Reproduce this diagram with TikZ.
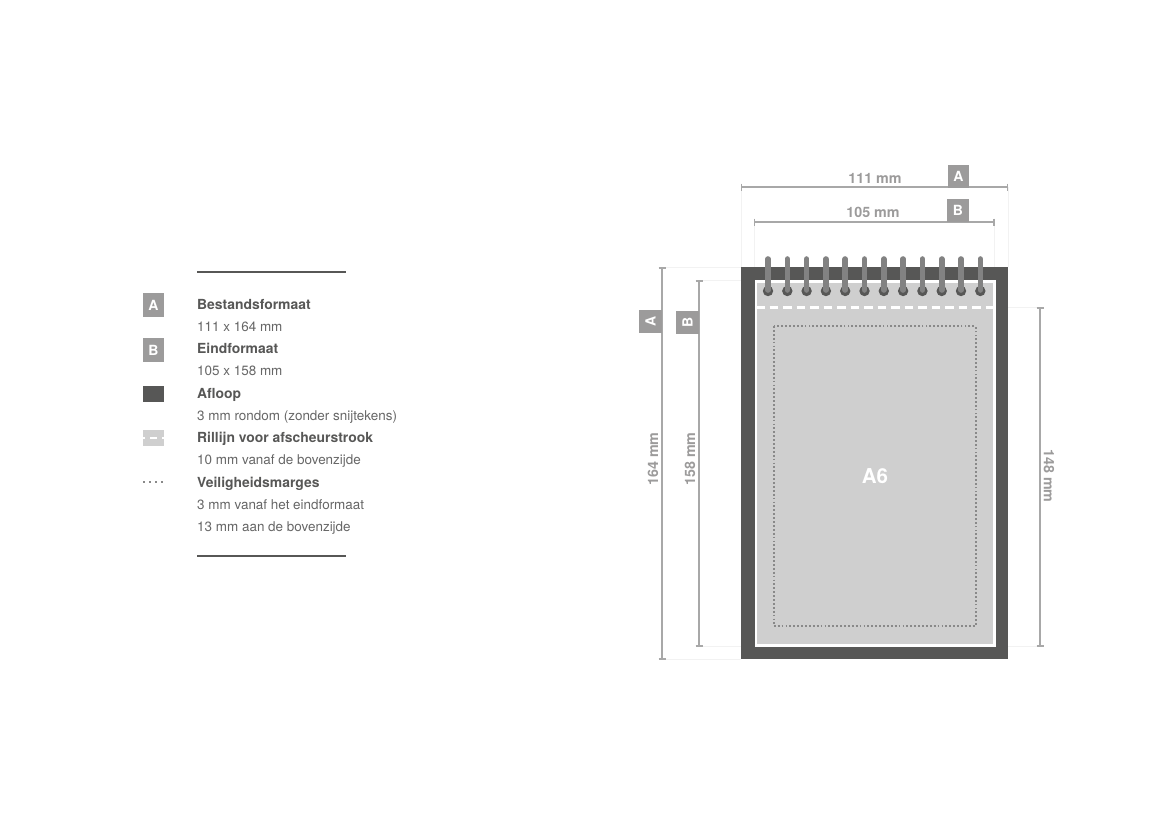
\documentclass[tikz,border=0pt]{standalone}
\usepackage{fontspec}
\setmainfont{TeX Gyre Heros}
\definecolor{dark}{HTML}{575756}
\definecolor{midg}{HTML}{9C9B9B}
\definecolor{dimg}{HTML}{A8A8A8}
\definecolor{lightg}{HTML}{CFCFCF}
\definecolor{faint}{HTML}{F2F2F2}
\definecolor{coil}{HTML}{828282}
\definecolor{txt}{HTML}{666666}
\tikzset{
  x=1pt,y=-1pt,
  boxlab/.style={fill=midg,text=white,font=\fontsize{14}{14}\selectfont\bfseries,inner sep=0pt,minimum width=21.5pt,minimum height=23pt,anchor=center},
  dimline/.style={draw=dimg,line width=2.5pt},
  extline/.style={draw=faint,line width=.8pt},
  dimtxt/.style={text=midg,font=\fontsize{14.3}{14.3}\selectfont\bfseries,inner sep=0pt},
  legh/.style={text=dark,font=\fontsize{13.9}{13.9}\selectfont\bfseries,inner sep=0pt,anchor=base west},
  legt/.style={text=txt,font=\fontsize{13.45}{13.45}\selectfont,inner sep=0pt,anchor=base west},
  rulel/.style={draw=dark,line width=1.3pt},
  dotl/.style={draw=dark!70,line width=2pt,dash pattern=on 1.8pt off 2.1pt},
}
\begin{document}
\begin{tikzpicture}
\useasboundingbox (0,0) rectangle (1169,827);
% legend
\coordinate (r1a) at (197,272); \coordinate (r1b) at (346,272);
\coordinate (r2a) at (197,556); \coordinate (r2b) at (346,556);
\draw[rulel] (r1a) -- (r1b);
\draw[rulel] (r2a) -- (r2b);
\node[boxlab,minimum height=23.5pt] (legA) at (153.5,305) {A};
\node[boxlab,minimum height=23.5pt] (legB) at (153.5,350) {B};
\fill[dark] (143,386) rectangle (164,402);
\fill[lightg] (143,430) rectangle (164,446);
\draw[white,line width=2.4pt] (143,438) -- (145,438) (150,438) -- (157,438) (162,438) -- (164,438);
\draw[draw=dark!70,line width=1.5pt,dash pattern=on 1.5pt off 4.6pt] (143,482) -- (165,482);
\node[legh] (t1) at (197,309) {Bestandsformaat};
\node[legt] (t2) at (197,331.5) {111 x 164 mm};
\node[legh] (t3) at (197,353.5) {Eindformaat};
\node[legt] (t4) at (197,375.5) {105 x 158 mm};
\node[legh] (t5) at (197,398) {Afloop};
\node[legt] (t6) at (197,420) {3 mm rondom (zonder snijtekens)};
\node[legh] (t7) at (197,442.5) {Rillijn voor afscheurstrook};
\node[legt] (t8) at (197,464.5) {10 mm vanaf de bovenzijde};
\node[legh] (t9) at (197,487) {Veiligheidsmarges};
\node[legt] (t10) at (197,509) {3 mm vanaf het eindformaat};
\node[legt] (t11) at (197,531.5) {13 mm aan de bovenzijde};
% extension lines
\draw[extline] (741,187) -- (741,267);
\draw[extline] (1008,187) -- (1008,267);
\draw[extline] (754.5,222) -- (754.5,267);
\draw[extline] (994.5,222) -- (994.5,267);
\draw[extline] (662,267) -- (741,267);
\draw[extline] (699,280) -- (754,280);
\draw[extline] (662,659) -- (741,659);
\draw[extline] (699,646) -- (741,646);
\draw[extline] (1008,307.5) -- (1040,307.5);
\draw[extline] (1008,646) -- (1040,646);
% pad
\fill[dark] (741,267) rectangle (1008.3,659);
\fill[white] (754.5,279.5) rectangle (995.6,646.5);
\fill[lightg] (757,282.5) rectangle (992.8,643.5);
\draw[white,line width=2.6pt,dash pattern=on 8.5pt off 5pt] (756,307.5) -- (993,307.5);
\draw[dotl] (773.5,326) rectangle (975.5,626);
\foreach \i in {0,...,11}{
  \fill[dark] (768+19.3*\i,291) circle (5.2);
  \draw[coil,line width=5.6pt,line cap=round] (768+19.3*\i,259) -- (768+19.3*\i,290);
}
\node[text=white,font=\fontsize{20.5}{20.5}\selectfont\bfseries,inner sep=0pt] (a6) at (875,476) {A6};
% top dims
\coordinate (ta1) at (741.5,187); \coordinate (ta2) at (1007.5,187);
\coordinate (tb1) at (754.5,222); \coordinate (tb2) at (994,222);
\draw[dimline] (ta1) -- (ta2);
\draw[dimline] (tb1) -- (tb2);
\draw[dimg,line width=1.6pt] (741.5,183.5) -- (741.5,190.5) (1007.5,183.5) -- (1007.5,190.5) (754.5,218.5) -- (754.5,225.5) (994,218.5) -- (994,225.5);
\node[dimtxt] (d111) at (875,178) {111 mm};
\node[dimtxt] (d105) at (873,212.5) {105 mm};
\node[boxlab,minimum height=23pt] (tA) at (958.5,176) {A};
\node[boxlab,minimum width=22pt] (tB) at (958,210.5) {B};
% left dims
\coordinate (la1) at (662,268); \coordinate (la2) at (662,658.5);
\coordinate (lb1) at (699,280.5); \coordinate (lb2) at (699,645.5);
\draw[dimline] (la1) -- (la2);
\draw[dimline] (lb1) -- (lb2);
\draw[dimg,line width=2pt] (658.5,268) -- (665.5,268) (658.5,658.5) -- (665.5,658.5) (695.5,280.5) -- (702.5,280.5) (695.5,645.5) -- (702.5,645.5);
\node[boxlab,minimum width=23pt,minimum height=22.5pt,rotate=90] (lA) at (650.5,321.5) {A};
\node[boxlab,minimum width=23pt,minimum height=23pt,rotate=90] (lB) at (687.5,322) {B};
\node[dimtxt,rotate=90] (d164) at (653,459) {164 mm};
\node[dimtxt,rotate=90] (d158) at (690,459) {158 mm};
% right dim
\coordinate (ra1) at (1040,308); \coordinate (ra2) at (1040,646);
\draw[dimline] (ra1) -- (ra2);
\draw[dimg,line width=2pt] (1036.5,308) -- (1043.5,308) (1036.5,646) -- (1043.5,646);
\node[dimtxt,rotate=-90] (d148) at (1049,476) {148 mm};
\end{tikzpicture}
\end{document}
